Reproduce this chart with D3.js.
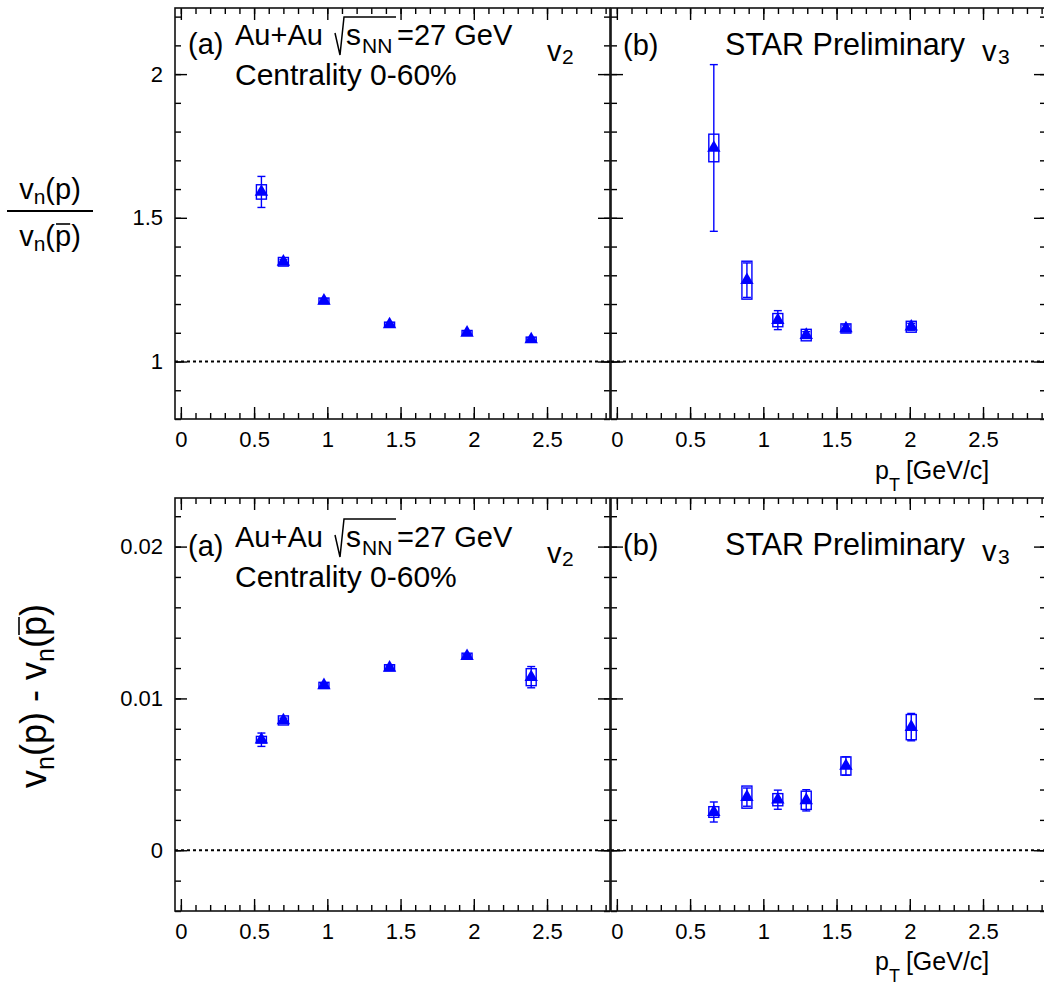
<!doctype html>
<html>
<head>
<meta charset="utf-8">
<title>vn(p) vs vn(pbar)</title>
<script src="https://d3js.org/d3.v7.min.js"></script>
<style>
  body { margin: 0; background: #fff; }
  text { font-family: "Liberation Sans", Arial, Helvetica, sans-serif; fill: #000; }
</style>
</head>
<body>
<script>
// ---- data ----
// top row: ratio vn(p)/vn(pbar); bottom row: difference vn(p)-vn(pbar)
var v2Pt        = [0.55, 0.70, 0.977, 1.425, 1.954, 2.392];
var v2Ratio     = [1.590, 1.347, 1.211, 1.129, 1.100, 1.077];
var v2RatioStat = [0.054, 0.008, 0.007, 0.006, 0.006, 0.006];
var v2RatioSys  = [0.025, 0.015, 0.010, 0.008, 0.008, 0.008];
var v2Diff      = [0.00728, 0.00855, 0.01086, 0.01202, 0.01278, 0.01140];
var v2DiffStat  = [0.00044, 0.00015, 0.00012, 0.00012, 0.00012, 0.00070];
var v2DiffSys   = [0.00022, 0.00030, 0.00020, 0.00020, 0.00020, 0.00056];

var v3Pt        = [0.662, 0.888, 1.099, 1.293, 1.564, 2.010];
var v3Ratio     = [1.743, 1.283, 1.144, 1.092, 1.115, 1.121];
var v3RatioStat = [0.290, 0.060, 0.033, 0.012, 0.012, 0.012];
var v3RatioSys  = [0.048, 0.066, 0.023, 0.020, 0.016, 0.019];
var v3Diff      = [0.00252, 0.00350, 0.00333, 0.00329, 0.00555, 0.00811];
var v3DiffStat  = [0.00066, 0.00060, 0.00063, 0.00070, 0.00060, 0.00090];
var v3DiffSys   = [0.00035, 0.00073, 0.00040, 0.00060, 0.00060, 0.00083];

var xTicks      = [0, 0.5, 1, 1.5, 2, 2.5];
var xTickLabels = ["0", "0.5", "1", "1.5", "2", "2.5"];
var ratioTicks      = [1, 1.5, 2];
var ratioTickLabels = ["1", "1.5", "2"];
var diffTicks       = [0, 0.01, 0.02];
var diffTickLabels  = ["0", "0.01", "0.02"];

var width = 1044, height = 985;
var blue = "#0000ff";

var svg = d3.select("body").append("svg")
    .attr("width", width)
    .attr("height", height);

var xA = d3.scaleLinear().domain([-0.04, 2.93]).range([175, 610]);
var xB = d3.scaleLinear().domain([-0.04, 2.93]).range([611, 1046]);
var yRatio = d3.scaleLinear().domain([0.8, 2.23]).range([419, 8]);
var yDiff = d3.scaleLinear().domain([-0.004, 0.0232]).range([911, 498]);

var xMinor = d3.range(0, 30).map(function(i) { return i / 10; });
var ratioMinor = d3.range(8, 23).map(function(i) { return i / 10; });
var diffMinor = d3.range(-2, 12).map(function(i) { return i * 0.002; });

function styleAxis(g, size) {
    g.select(".domain").remove();
    g.selectAll("line").attr("stroke", "#000").attr("stroke-width", 1.4);
    g.selectAll("text").attr("font-family", null).attr("font-size", size);
}

function panel(x, y, yTicks, yLabels, yMinor, pts, vals, stat, sys, refVal, labelled) {
    var x0 = x.range()[0], x1 = x.range()[1];
    var y0 = y.range()[1], y1 = y.range()[0];
    var g = svg.append("g");

    // bottom axis with labels
    g.append("g").attr("transform", "translate(0," + y1 + ")")
        .call(d3.axisBottom(x).tickValues(xTicks).tickSize(-12).tickPadding(12)
            .tickFormat(function(d, i) { return xTickLabels[i]; }))
        .call(styleAxis, 22);
    g.append("g").attr("transform", "translate(0," + y1 + ")")
        .call(d3.axisBottom(x).tickValues(xMinor).tickSize(-6).tickFormat(""))
        .call(styleAxis, 22);
    // top ticks
    g.append("g").attr("transform", "translate(0," + y0 + ")")
        .call(d3.axisTop(x).tickValues(xTicks).tickSize(-12).tickFormat(""))
        .call(styleAxis, 22);
    g.append("g").attr("transform", "translate(0," + y0 + ")")
        .call(d3.axisTop(x).tickValues(xMinor).tickSize(-6).tickFormat(""))
        .call(styleAxis, 22);
    // left axis
    g.append("g").attr("transform", "translate(" + x0 + ",0)")
        .call(d3.axisLeft(y).tickValues(yTicks).tickSize(-12).tickPadding(12)
            .tickFormat(function(d, i) { return labelled ? yLabels[i] : ""; }))
        .call(styleAxis, 22);
    g.append("g").attr("transform", "translate(" + x0 + ",0)")
        .call(d3.axisLeft(y).tickValues(yMinor).tickSize(-6).tickFormat(""))
        .call(styleAxis, 22);
    // right ticks
    g.append("g").attr("transform", "translate(" + x1 + ",0)")
        .call(d3.axisRight(y).tickValues(yTicks).tickSize(-12).tickFormat(""))
        .call(styleAxis, 22);
    g.append("g").attr("transform", "translate(" + x1 + ",0)")
        .call(d3.axisRight(y).tickValues(yMinor).tickSize(-6).tickFormat(""))
        .call(styleAxis, 22);

    // frame
    g.append("rect")
        .attr("x", x0).attr("y", y0)
        .attr("width", x1 - x0).attr("height", y1 - y0)
        .attr("fill", "none").attr("stroke", "#111").attr("stroke-width", 1.6);

    // reference line
    g.append("line")
        .attr("x1", x0).attr("x2", x1)
        .attr("y1", y(refVal)).attr("y2", y(refVal))
        .attr("stroke", "#000").attr("stroke-width", 2.2)
        .attr("stroke-dasharray", "3,3");

    var idx = d3.range(pts.length);

    // stat error bars
    var eb = g.append("g").attr("stroke", blue).attr("stroke-width", 1.4);
    eb.selectAll(".bar").data(idx).enter().append("line")
        .attr("x1", function(i) { return x(pts[i]); })
        .attr("x2", function(i) { return x(pts[i]); })
        .attr("y1", function(i) { return y(vals[i] - stat[i]); })
        .attr("y2", function(i) { return y(vals[i] + stat[i]); });
    eb.selectAll(".capTop").data(idx).enter().append("line")
        .attr("x1", function(i) { return x(pts[i]) - 4; })
        .attr("x2", function(i) { return x(pts[i]) + 4; })
        .attr("y1", function(i) { return y(vals[i] + stat[i]); })
        .attr("y2", function(i) { return y(vals[i] + stat[i]); });
    eb.selectAll(".capBot").data(idx).enter().append("line")
        .attr("x1", function(i) { return x(pts[i]) - 4; })
        .attr("x2", function(i) { return x(pts[i]) + 4; })
        .attr("y1", function(i) { return y(vals[i] - stat[i]); })
        .attr("y2", function(i) { return y(vals[i] - stat[i]); });

    // systematic boxes
    g.selectAll(".sys").data(idx).enter().append("rect")
        .attr("x", function(i) { return x(pts[i]) - 5; })
        .attr("width", 10)
        .attr("y", function(i) { return y(vals[i] + sys[i]); })
        .attr("height", function(i) { return y(vals[i] - sys[i]) - y(vals[i] + sys[i]); })
        .attr("fill", "none").attr("stroke", blue).attr("stroke-width", 1.4);

    // markers
    g.selectAll(".mk").data(idx).enter().append("path")
        .attr("d", d3.symbol(d3.symbolTriangle, 78))
        .attr("transform", function(i) { return "translate(" + x(pts[i]) + "," + y(vals[i]) + ")"; })
        .attr("fill", blue);
}

panel(xA, yRatio, ratioTicks, ratioTickLabels, ratioMinor, v2Pt, v2Ratio, v2RatioStat, v2RatioSys, 1, true);
panel(xB, yRatio, ratioTicks, ratioTickLabels, ratioMinor, v3Pt, v3Ratio, v3RatioStat, v3RatioSys, 1, false);
panel(xA, yDiff, diffTicks, diffTickLabels, diffMinor, v2Pt, v2Diff, v2DiffStat, v2DiffSys, 0, true);
panel(xB, yDiff, diffTicks, diffTickLabels, diffMinor, v3Pt, v3Diff, v3DiffStat, v3DiffSys, 0, false);

// ---- annotations ----
function leftNotes(dy) {
    var g = svg.append("g").attr("transform", "translate(0," + dy + ")");
    g.append("text").attr("x", 188).attr("y", 54).attr("font-size", 29).text("(a)");
    g.append("text").attr("x", 235).attr("y", 45).attr("font-size", 29).text("Au+Au");
    g.append("path")
        .attr("d", "M335,33 L340,55 L344,17 L396,17")
        .attr("fill", "none").attr("stroke", "#000").attr("stroke-width", 1.5);
    g.append("text").attr("x", 346).attr("y", 45).attr("font-size", 30).text("s");
    g.append("text").attr("x", 362).attr("y", 53).attr("font-size", 21).text("NN");
    g.append("text").attr("x", 397).attr("y", 45).attr("font-size", 29).text("=27 GeV");
    g.append("text").attr("x", 235).attr("y", 85).attr("font-size", 30).text("Centrality 0-60%");
    g.append("text").attr("x", 547).attr("y", 61).attr("font-size", 29).text("v");
    g.append("text").attr("x", 562).attr("y", 64).attr("font-size", 21).text("2");
}
function rightNotes(dy) {
    var g = svg.append("g").attr("transform", "translate(0," + dy + ")");
    g.append("text").attr("x", 623).attr("y", 55).attr("font-size", 29).text("(b)");
    g.append("text").attr("x", 725).attr("y", 55).attr("font-size", 30.5).text("STAR Preliminary");
    g.append("text").attr("x", 982).attr("y", 61).attr("font-size", 29).text("v");
    g.append("text").attr("x", 998).attr("y", 64).attr("font-size", 21).text("3");
}
function ptLabel(y) {
    var t = svg.append("text").attr("x", 875).attr("y", y).attr("font-size", 25);
    t.append("tspan").text("p");
    t.append("tspan").attr("font-size", 18).attr("dy", 12).text("T");
    t.append("tspan").attr("dy", -12).attr("dx", 6).text("[GeV/c]");
}
leftNotes(0);
rightNotes(0);
leftNotes(502);
rightNotes(500);
ptLabel(479);
ptLabel(970);

// y title, top: fraction
function vnText(parent, x, y, size, subSize, subDy, str) {
    var t = parent.append("text").attr("x", x).attr("y", y)
        .attr("font-size", size).attr("text-anchor", "middle");
    t.append("tspan").text("v");
    t.append("tspan").attr("font-size", subSize).attr("dy", subDy).text("n");
    t.append("tspan").attr("dy", -subDy).text(str);
    return t;
}
function overline(parent, t, ci, yOff) {
    var n = t.node();
    var a = n.getStartPositionOfChar(ci), b = n.getEndPositionOfChar(ci);
    parent.append("line")
        .attr("x1", a.x + 1).attr("x2", b.x - 1)
        .attr("y1", a.y + yOff).attr("y2", a.y + yOff)
        .attr("stroke", "#000").attr("stroke-width", 1.6);
}
vnText(svg, 50, 199, 29, 21, 5, "(p)");
svg.append("line").attr("x1", 7).attr("x2", 93).attr("y1", 211).attr("y2", 211)
    .attr("stroke", "#000").attr("stroke-width", 2);
var den = vnText(svg, 50, 246, 29, 21, 5, "(p)");
overline(svg, den, 3, -22);

// y title, bottom: rotated difference
var gl = svg.append("g").attr("transform", "translate(46,696) rotate(-90)");
var tl = gl.append("text").attr("x", 0).attr("y", 0)
    .attr("font-size", 36).attr("text-anchor", "middle");
tl.append("tspan").text("v");
tl.append("tspan").attr("font-size", 25).attr("dy", 8).text("n");
tl.append("tspan").attr("dy", -8).text("(p) - v");
tl.append("tspan").attr("font-size", 25).attr("dy", 8).text("n");
tl.append("tspan").attr("dy", -8).text("(p)");
overline(gl, tl, 11, -27);
</script>
</body>
</html>
